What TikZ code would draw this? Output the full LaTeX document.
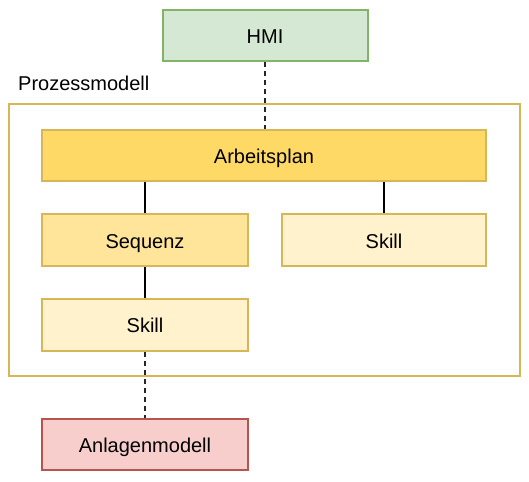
\documentclass[tikz,border=0pt]{standalone}
\usepackage{fontspec}
\setmainfont{Liberation Sans}
\definecolor{gfill}{HTML}{D5E8D4}
\definecolor{gline}{HTML}{82B366}
\definecolor{yline}{HTML}{D6B656}
\definecolor{yfillA}{HTML}{FFD966}
\definecolor{yfillB}{HTML}{FFE599}
\definecolor{yfillC}{HTML}{FFF2CC}
\definecolor{rfill}{HTML}{F8CECC}
\definecolor{rline}{HTML}{B85450}
\tikzset{
  box/.style={draw, line width=2pt, rectangle, inner sep=0pt, minimum height=51pt,
    text height=16pt, text depth=0pt,
    font=\fontsize{20}{24}\selectfont, text=black},
  conn/.style={line width=2pt, draw=black},
  dconn/.style={line width=1.5pt, draw=black!85, dash pattern=on 5pt off 4pt},
}
\begin{document}
\begin{tikzpicture}[x=1pt,y=-1pt]
\useasboundingbox (0,0) rectangle (529,481);
\node[draw=yline, line width=2pt, rectangle, inner sep=0pt, minimum width=511pt, minimum height=272pt] (proc) at (264.5,240) {};
\node[anchor=west, inner sep=0pt, font=\fontsize{20}{24}\selectfont] (plabel) at (18,83) {Prozessmodell};
\node[box, fill=gfill, draw=gline, minimum width=205pt] (hmi) at (265,36) {HMI};
\node[box, fill=yfillA, draw=yline, minimum width=444pt] (ap) at (264,155.5) {Arbeitsplan};
\node[box, fill=yfillB, draw=yline, minimum width=206pt, minimum height=52pt] (seq) at (145,240) {Sequenz};
\node[box, fill=yfillC, draw=yline, minimum width=204pt, minimum height=52pt] (skr) at (384,240) {Skill};
\node[box, fill=yfillC, draw=yline, minimum width=206pt, minimum height=52pt] (skl) at (145,324.5) {Skill};
\node[box, fill=rfill, draw=rline, minimum width=206pt] (anl) at (145,444.5) {Anlagenmodell};
\draw[dconn] (hmi.south) -- (hmi.south |- ap.north);
\draw[conn] (seq.north |- ap.south) -- (seq.north);
\draw[conn] (skr.north |- ap.south) -- (skr.north);
\draw[conn] (seq.south) -- (skl.north);
\draw[dconn] (skl.south) -- (anl.north);
\end{tikzpicture}
\end{document}
